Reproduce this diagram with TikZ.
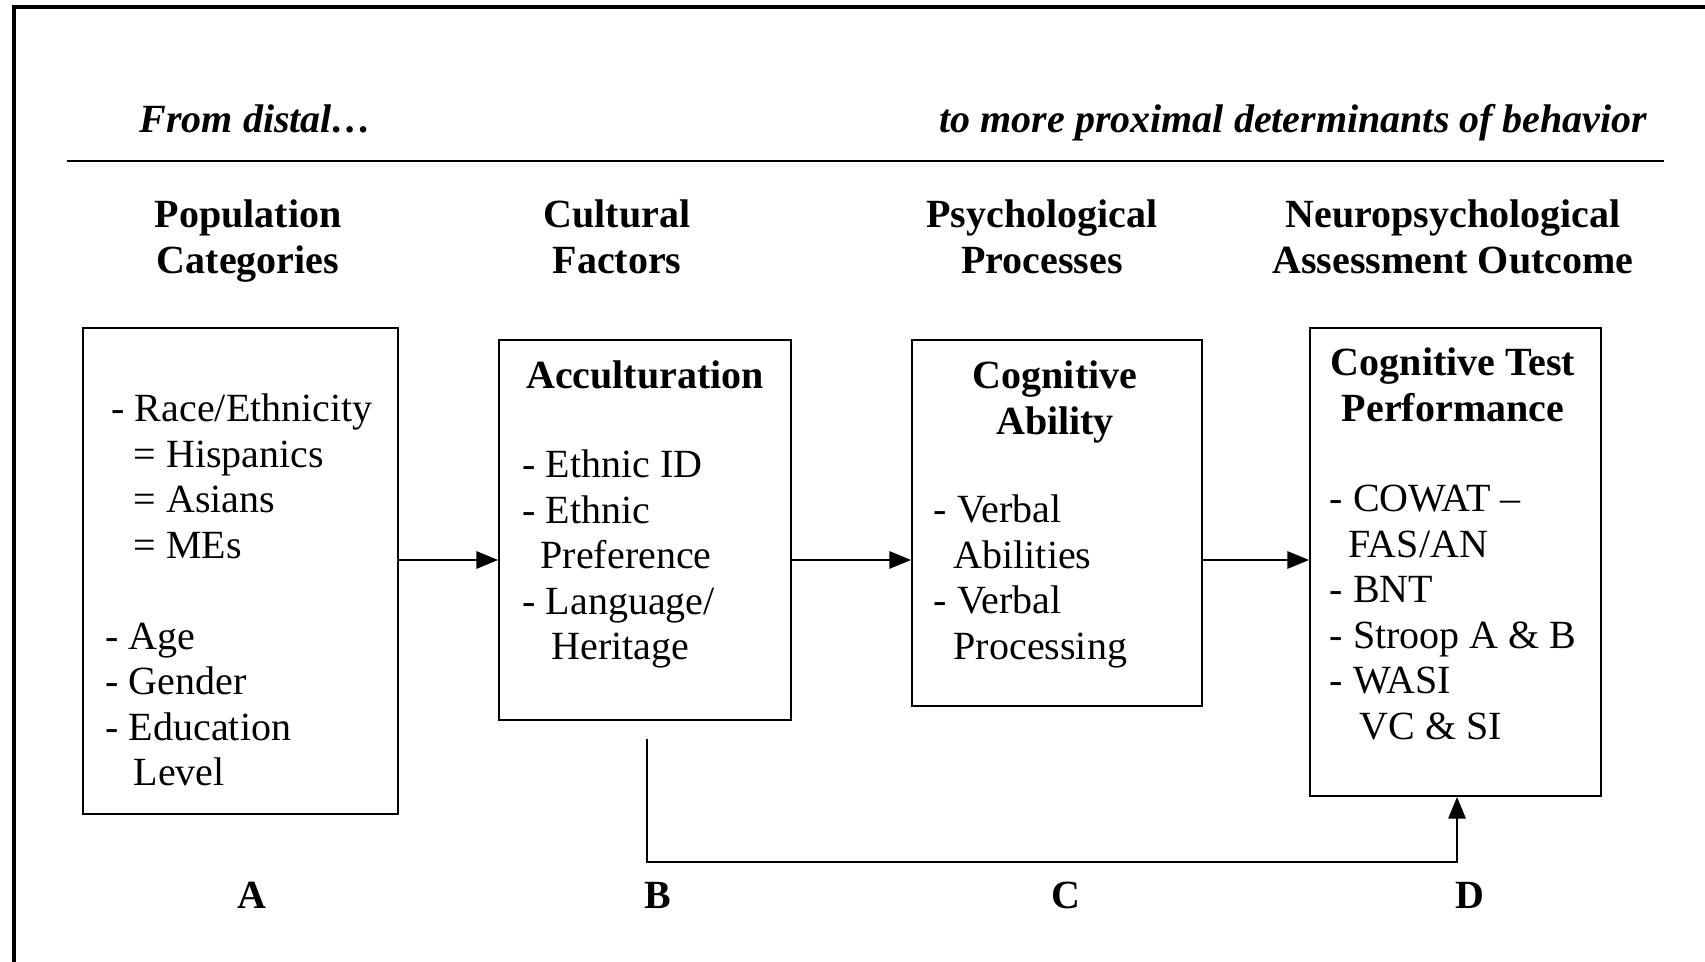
\documentclass[tikz,border=0pt]{standalone}
\usepackage{fontspec}
\setmainfont{Liberation Serif}
\usetikzlibrary{arrows.meta,calc}
\def\u{0.3pt}
\begin{document}
\begin{tikzpicture}[x=0.3pt,y=-0.3pt,
  box/.style={draw, line width=0.55pt, inner sep=0pt},
  listtxt/.style={inner sep=0pt, font=\fontsize{12}{13.65}\selectfont, align=left, anchor=north west},
  hdr/.style={inner sep=0pt, font=\fontsize{12}{13.65}\selectfont\bfseries, align=center, anchor=north},
  ttl/.style={inner sep=0pt, font=\fontsize{12}{13.65}\selectfont\bfseries\itshape},
  lbl/.style={inner sep=0pt, font=\fontsize{12}{13.65}\selectfont\bfseries, anchor=base},
  arr/.style={line width=0.55pt, -{Triangle[length=6.5pt,width=5.2pt]}}]
\useasboundingbox (0,0) rectangle (1705,962);
% outer frame (cut off at right and bottom)
\draw[line width=4*\u] (14,980) -- (14,7) -- (1720,7);
% titles and rule
\node[ttl, anchor=base west] (distal) at (139,133) {From distal…};
\node[ttl, anchor=base east] (proximal) at (1648,133) {to more proximal determinants of behavior};
\draw[line width=2.2*\u] (67,161) -- (1664,161);
% column headers
\node[hdr] (hA) at (248,195) {\strut Population\\Categories};
\node[hdr] (hB) at (617,195) {\strut Cultural\\Factors};
\node[hdr] (hC) at (1042,195) {\strut Psychological\\Processes};
\node[hdr] (hD) at (1453,195) {\strut Neuropsychological\\Assessment Outcome};
% boxes
\node[box, minimum width=315*\u, minimum height=486*\u] (boxA) at (240.5,571) {};
\node[box, minimum width=292*\u, minimum height=380*\u] (boxB) at (645,530) {};
\node[box, minimum width=290*\u, minimum height=366*\u] (boxC) at (1057,523) {};
\node[box, minimum width=291*\u, minimum height=468*\u] (boxD) at (1455.5,562) {};
% box A text
\node[listtxt] (tA) at (105,389) {\strut\hspace{1.8pt}- Race/Ethnicity\\
  \hspace{8.4pt}= Hispanics\\
  \hspace{8.4pt}= Asians\\
  \hspace{8.4pt}= MEs\\[13.65pt]
  - Age\\
  - Gender\\
  - Education\\
  \hspace{8.4pt}Level};
% box B text
\node[hdr] (tBh) at (645,356) {\strut Acculturation};
\node[listtxt] (tB) at (522,445) {\strut - Ethnic ID\\
  - Ethnic\\
  \hspace{5.4pt}Preference\\
  - Language/\\
  \hspace{8.7pt}Heritage};
% box C text
\node[hdr] (tCh) at (1055,356) {\strut Cognitive\\Ability};
\node[listtxt] (tC) at (933,490) {\strut - Verbal\\
  \hspace{6pt}Abilities\\
  - Verbal\\
  \hspace{6pt}Processing};
% box D text
\node[hdr] (tDh) at (1453,343) {\strut Cognitive Test\\Performance};
\node[listtxt] (tD) at (1329,479) {\strut - COWAT –\\
  \hspace{5.7pt}FAS/AN\\
  - BNT\\
  - Stroop A \& B\\
  - WASI\\
  \hspace{9pt}VC \& SI};
% arrows
\coordinate (ay) at (0,560);
\draw[arr] (boxA.east |- ay) -- (boxB.west |- ay);
\draw[arr] (boxB.east |- ay) -- (boxC.west |- ay);
\draw[arr] (boxC.east |- ay) -- (boxD.west |- ay);
\coordinate (bstart) at ($(boxB.south)+(2,18)$);
\coordinate (bend) at ($(boxD.south)+(1.5,0)$);
\draw[arr] (bstart) -- (bstart |- 0,862) -- (bend |- 0,862) -- (bend);
% bottom letters
\node[lbl] (lA) at (252,908) {A};
\node[lbl] (lB) at (658,908) {B};
\node[lbl] (lC) at (1066,908) {C};
\node[lbl] (lD) at (1470,908) {D};
\end{tikzpicture}
\end{document}
